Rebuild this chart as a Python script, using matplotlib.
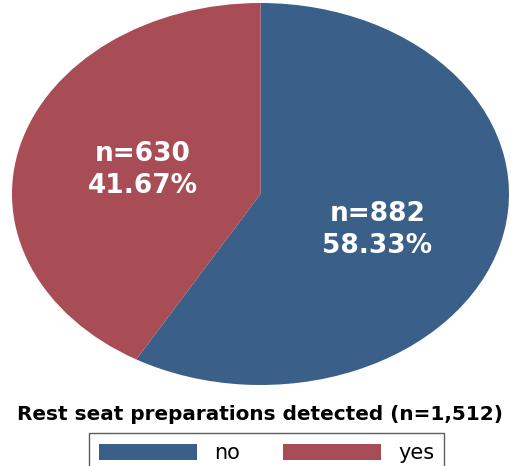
import matplotlib
matplotlib.use("Agg")
import matplotlib.pyplot as plt
from matplotlib.patches import Patch

categories = ["no", "yes"]
counts = [882, 630]
colors = ["#3A5F88", "#A84C55"]
title = "Rest seat preparations detected (n=1,512)"

W, H = 511, 466
fig = plt.figure(figsize=(W / 100, H / 100), dpi=100)
ax = fig.add_axes([12 / W, 81 / H, 497 / W, 382 / H])
total = sum(counts)
wedges, texts, autotexts = ax.pie(
    counts, colors=colors, startangle=90, counterclock=False,
    autopct=lambda p: f"n={round(p * total / 100)}\n{p:.2f}%",
    pctdistance=0.49, wedgeprops=dict(linewidth=0),
    textprops=dict(color="white", fontsize=19, fontweight="bold",
                   family="DejaVu Sans", linespacing=1.3))
ax.set_aspect("auto")
ax.set_xlim(-1, 1)
ax.set_ylim(-1, 1)
autotexts[0].set_position((0.47, -0.19))

fig.text(259.5 / W, 1 - 414 / H, title, ha="center", va="center",
         fontsize=14.4, fontweight="bold", family="DejaVu Sans")

handles = [Patch(facecolor=c, edgecolor="none") for c in colors]
leg = fig.legend(handles, categories, loc="upper center", ncol=2,
                 bbox_to_anchor=(266.5 / W, 1 - 433 / H), bbox_transform=fig.transFigure,
                 handlelength=4.7, handleheight=0.77,
                 handletextpad=0.82, columnspacing=2.1, borderpad=0.48,
                 borderaxespad=0, fancybox=False, frameon=True,
                 prop=dict(family="DejaVu Sans", size=15))
leg.get_frame().set_edgecolor("#333333")
leg.get_frame().set_linewidth(1.0)

fig.savefig("out.png", dpi=100)
